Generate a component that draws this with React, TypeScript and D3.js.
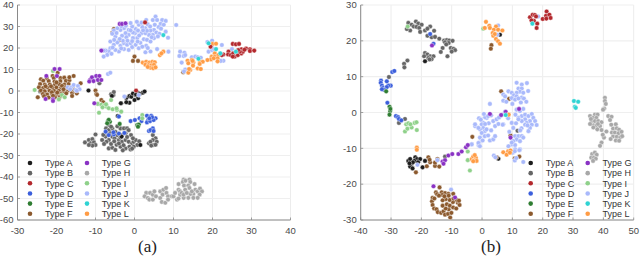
import React from "react";
import * as d3 from "d3";

type P = [number, number];

const typeNames = ["Type A","Type B","Type C","Type D","Type E","Type F","Type G","Type H","Type I","Type J","Type K","Type L"];
const typeColors = ["#1c1c1c","#666666","#b3282d","#3c5fdc","#2f7d32","#8c5a2e","#8a32c4","#a8a8a8","#8fd18a","#a9b9fb","#2fd3d3","#ff9c45"];

const xTicksA = [-30,-20,-10,0,10,20,30,40];
const yTicksA = [-60,-50,-40,-30,-20,-10,0,10,20,30,40];
const xTicksB = [-40,-30,-20,-10,0,10,20,30,40,50];
const yTicksB = [-30,-20,-10,0,10,20,30];

// Panel (a)
const aA: P[] = [[-11.8,.2],[-5.8,-2.3],[-4.3,-11.6],[-2.1,-3.2],[-1.3,-2.4],[-.8,-2.7],[-.4,-1.2],[.4,-2],[.9,-1],[.9,-3.4],[-1.3,-5.5],[-2.1,-5.2],[0,-4.2],[2.1,-.8],[2.6,-.2],[.4,-1.6],[1.3,-1.4],[-3.3,-21.2],[1.5,-25.1],[-3.5,-5.7]];
const aB: P[] = [[-10,-20.2],[-12.7,-23.9],[-11.7,-22.8],[-10.8,-22.4],[-11.3,-24.3],[-10.4,-23.9],[-10,-25.1],[-10.8,-25.4],[-11.7,-25.1],[-6.6,-15.8],[-7.3,-17.4],[-6.6,-18.2],[-7,-19.7],[-6.2,-19.7],[-5.7,-17.4],[-7.4,-21.2],[-8.3,-22.8],[-6.6,-22.8],[-5.7,-21.2],[-5.1,-22],[-4.4,-20.5],[-4.9,-19],[-3.6,-17.4],[-2.7,-17.4],[-1.9,-17.4],[-1.5,-18.2],[-2.3,-19.7],[-.9,-20.5],[-3.2,-20.5],[-4,-22.8],[-3.2,-23.6],[-2.3,-22.8],[-1.5,-23.6],[-.6,-24.3],[-.2,-23.6],[.7,-25.1],[.3,-22.8],[-6.6,-26.7],[-5.7,-26.4],[-4.9,-27.4],[-3.6,-25.9],[-2.3,-26.7],[-1.3,-25.9],[-.2,-25.9],[-6,-24.6],[-4.6,-25],[-2.8,-25.2],[-1,-27.2],[3.7,-24.3],[4.7,-20.5],[5.4,-22],[4.7,-22.8],[4.1,-23.6],[5.7,-23.6],[4.9,-25.1],[4.3,-25.4],[5.4,-25],[-5.4,-1.9],[-3.4,-5.7],[-9,3.6],[-24.2,-.2],[-6,-1.5],[-5.3,-.5],[-7.2,-23.6],[-5.2,-23.4],[-3.6,-21.6],[-1.9,-21.4],[-.4,-22],[-7.8,-24.6],[-3,-27.6],[-.6,-26.8],[-8,-20.4],[-6,-16.6],[-4.4,-16.4],[-4,-24.4],[1.2,-23.4]];
const aC: P[] = [[.4,.2],[2.7,31.9],[19.5,20.6],[25.2,21.9],[26,21.7],[26.8,21.9],[22.8,17],[22.4,16.7],[24.1,18.3],[24,17],[24.7,16.7],[25.3,17.5],[25.7,16],[25.2,16],[26.5,16.7],[27.4,17.5],[27.4,19.4],[27.8,18.3],[28.6,19.8],[29.6,19.4],[29.6,18.6],[30.7,18.8],[27,18.3],[26.6,19],[28.2,19.2]];
const aD: P[] = [[-4,-11.9],[-1,-14],[.1,-13.5],[1.3,-12.7],[1.8,-14],[3.2,-11.5],[4.3,-11.5],[5.4,-12.7],[3.5,-13.5],[3.2,-14.6],[4,-14],[4.9,-13.5],[4.5,-12.2],[3.8,-12.7],[-7.4,-18.9],[-6.6,-20.5],[-5.3,-20.2],[-5.4,-19.2],[3.7,-18.6],[4.7,-17.4],[4.1,-18.2],[4.9,-18.6],[-2.6,-19.5],[-4,-19.8]];
const aE: P[] = [[-6.8,-14],[-6.3,-14.3],[-6.6,-13.4],[-3.8,-15.3],[.7,-15.8],[1.1,-15.6],[-7,-15],[.9,-16.6]];
const aF: P[] = [[-19.7,8.5],[-21,7],[-22.5,6],[-20.7,6],[-19,6],[-18,6.2],[-24,5.5],[-23.4,4.8],[-22,4.6],[-20.5,4.4],[-19,4.6],[-17.6,4.7],[-16.7,5],[-24.2,3.2],[-23,3],[-21.7,3],[-20.4,2.9],[-19.3,3.1],[-18,3],[-16.9,3.2],[-24.5,1.7],[-23.4,1.4],[-22.3,1.6],[-21,1.4],[-20,1.6],[-18.8,1.5],[-17.8,1.7],[-24,.2],[-23,-.1],[-21.8,.1],[-20.6,0],[-19.4,.1],[-18.2,-.1],[-17,.3],[-23.5,-1.4],[-22.4,-1.6],[-21.2,-1.3],[-20,-1.5],[-18.8,-1.4],[-17.5,-1.1],[-16,-.8],[-24.8,-2.9],[-22,-3],[-20.4,-2.9],[-19.2,-2.8],[-16,-2.3],[-14.8,-1.1],[-15.4,.2],[-16.7,6.4],[-15.6,7],[-13.8,3.6],[-21.4,2.2],[-20,4],[-18.6,2.4],[-22.8,2.2],[-21.2,-.6],[-19.8,-.7],[-23.2,-2.4],[-20.9,-2.2],[-18.2,.8],[-15.8,1],[-10,.2],[-9.8,-1.4],[-8.5,-4.2],[-8,-5.2],[-9.6,-1.8],[-5.7,27.1],[-3.8,23.7],[0,16],[-.4,14],[.9,14],[12.5,8.7],[-5.3,28.8]];
const aG: P[] = [[-20.5,10.2],[-19.2,10.2],[-22.6,7],[-19.9,7],[-22.8,-3.7],[-20.9,-3.9],[-20.9,-4.6],[-11.4,5.1],[-10.9,6.4],[-9.8,7],[-9,7],[-9.4,5.1],[-8.5,5.1],[-11.6,4.4],[-10.5,4.6],[-10.3,-5.7],[-3.8,31.2],[-3.2,31.2],[-2.3,31.5],[-8.5,18.8]];
const aH: P[] = [[3,-47.4],[2.6,-49],[3.4,-49.8],[4,-47.4],[4.7,-48.2],[5.1,-46.7],[3.8,-50.5],[4.7,-50.5],[5.5,-49],[6.6,-46.7],[7.4,-45.9],[8.1,-45.1],[7.2,-48.2],[8.2,-47.4],[8.6,-49],[6.6,-49.8],[7,-51.6],[7.9,-52],[8.6,-50.5],[9.6,-49],[10,-49],[10.4,-47.4],[11.3,-43.3],[11.3,-45.9],[11.7,-46.7],[10.9,-50.5],[11.3,-50],[11.7,-48.2],[12.1,-47.4],[12.6,-41.2],[12.4,-42.3],[13.1,-41.7],[14.1,-41.2],[14.3,-42.3],[12.7,-44],[13.8,-44],[13,-45.9],[14.1,-45.1],[15.4,-43.3],[15.6,-45.9],[16.2,-46.7],[16.8,-45.4],[17.3,-46.7],[16.7,-48.2],[15.1,-47.9],[14.3,-47.9],[15.1,-49.7],[16.2,-49.7],[13.8,-49.7],[12.6,-49.7],[12.6,-48.2],[13.4,-47.4],[14.7,-46.7]];
const aI: P[] = [[-20.9,9.3],[-25.6,.5],[-19.4,-3.9],[-18.6,-1.9],[-17.9,-2.9],[-9.4,-6],[-8.5,-6.4],[-7.8,-6.9],[-7.1,-7.3],[-6.6,-8],[-9.1,-10.1],[-5.6,-8.5],[-4.5,-8.8],[-3.4,-9.6],[-6,-4.2],[-8.2,-7.6],[-7.3,-6.2],[2,-11.2],[2,-12.7],[-4.6,-8.1]];
const aJ: P[] = [[5.4,34.6],[4.7,33],[5.8,33],[7.1,33],[8,32.6],[6.7,31.2],[7.5,30.8],[5.2,30.8],[6.2,29.7],[5,28.4],[4.1,28.1],[5.6,27.2],[6.4,26.6],[4.7,26.1],[3.7,26.1],[2.8,29.2],[2,29.7],[1.1,30.8],[.3,28.8],[-.6,30],[-1.5,28.4],[.1,26.9],[.9,28.1],[1.8,26.9],[2.8,26.9],[2.4,24.1],[3.2,23.8],[4.1,23],[.7,24.6],[-.4,24.6],[-1.5,26.1],[-2.3,26.9],[-2.7,29.2],[-3.6,28.4],[-4.4,29.2],[-5.3,28.1],[-2.1,25],[-3.2,25.7],[-4.9,25.3],[-5.7,26.6],[-6.2,23],[-5.3,21.5],[-4.4,22.6],[-3.6,21],[-2.7,22.2],[-1.9,21.5],[-1,22.2],[-.6,20.4],[.3,21.5],[1.1,19.9],[-1.5,19.1],[-2.7,19.5],[-4,18.4],[-4.9,19.1],[-6.2,19.9],[-6.6,18.4],[-7,16.8],[-7.9,16],[-7.4,18.8],[-5.9,17.3],[2.8,18],[4.1,18.4],[5.8,19.5],[8.7,18.3],[10.7,30.7],[8.6,24.8],[6.8,29],[8,27.6],[3.4,31],[3.2,28],[1.5,22.4],[3,21],[-.4,27.2],[-3,23.4],[1.8,31.8],[-7.9,18.8],[-4.6,27],[-3.4,30.2],[-1,31.6],[.6,32.2],[4,30],[3,33],[1.2,25.8],[-.6,23.2],[-1.8,23.4],[-3.8,24.2],[-5.2,23.8],[2,20.6],[.8,23],[5,24.6],[3.4,20],[-3.4,19.8],[-5.6,20.2],[-1,28.2],[2.2,28.2],[4.4,25],[6,25.4],[-2.2,30.4],
[11.7,18.3],[12.8,17.8],[11.5,16.3],[12.6,16.3],[13,16.7],[12.1,13.2],[14.7,15.7],[15.6,16],[16.2,15.7],[17,15.5],[13,10],[12.7,9.1],[18.7,22.8],[19.9,23.4],[19.8,20.6],[19,18.3],[19.9,19],[22.4,21.4],[25,19.5],[22.8,14.1],[22.1,14],[20.4,19.5],
[-17.1,1.7],[-16.2,1.7],[-15.6,2.8],[-14.5,2.3],[-16.5,.8],[-15.1,.5],[-14.1,.8],[-14.8,.1],[-10.1,6.6],[-9.4,6.2],[-6.8,7.9],[-6.2,8.5],[1.1,-1.9],[-2.6,-2.6]];
const aK: P[] = [[7.4,26],[16.4,15],[19,22.2],[20.9,19.5],[22,17.5],[26,18.3]];
const aL: P[] = [[2.1,13.2],[3,13.6],[3.8,13.2],[4.6,13.6],[5.2,13.4],[2.8,12.2],[3.6,12],[4.3,11.9],[5,12.2],[4.1,10.8],[4.8,10.6],[5.4,11],[3.4,11.2],[7.4,18.3],[6.5,16.7],[6.9,17.5],
[13.6,14.1],[14.7,14.4],[15.1,13.2],[13.8,12.9],[15,11.8],[16.8,13.6],[17.5,13.6],[16.7,12.6],[16.2,10.5],[17,10.2],[14.3,9.8],[13.8,8.5],[14,10.2],[14.9,14],[20,21.9],[20.9,22],[19.8,16],[20.6,17.5],[20.6,16],[21.5,16.7],[21.3,15.2],[21.3,13.8],[19.6,14.7],[18.7,14.4],[20.3,15.2]];

// Panel (b)
const bA: P[] = [[-24.3,-13.5],[-23.7,-13],[-23.2,-14.3],[-22,-12.5],[-21.5,-13],[-20.4,-13],[-18.8,-13.5],[-23.7,-15.1],[-22.3,-13.5],[-21.1,-13.9],[-19.6,-15.3],[-22.8,-13.9],[-23.9,-14.2],[-22.9,-15.6],[-18.8,14.3],[5.9,21.7],[5.4,-12.9]];
const bB: P[] = [[-24.3,25],[-21.8,25.4],[-23.2,24.5],[-21,24.8],[-22.5,24],[-21.6,23.9],[-19.9,24.5],[-20.7,23.6],[-23.7,22.9],[-24.8,23.3],[-20.4,22.5],[-18.8,22.9],[-17.1,24],[-18,23.4],[-15.8,22.8],[-18,21.4],[-16.6,21],[-15.5,21.1],[-14.1,20.6],[-12.5,20.1],[-11.6,20.2],[-10.8,20.1],[-9.7,20],[-12.2,19.6],[-11,19.4],[-11.8,19],[-13,18],[-13.6,16.9],[-10.3,18],[-9.4,17.8],[-8.9,17.4],[-10,17],[-11.4,15.7],[-18.8,16.6],[-18,16.2],[-19.1,15.7],[-17.1,15.7],[-16,15.7],[-17.7,15.2],[-16.6,14.9],[-17.3,14.8],[-24.6,14.5],[-25.7,13.6],[-25.6,12.6],[-30.7,9.9],[-27.4,-2.9],[-25.4,-1.8],[-12.2,-12.3],[11.7,-5.1]];
const bC: P[] = [[15.8,26.6],[16.7,27.3],[17.4,27.2],[17.1,25.6],[18.2,24.8],[18,23.6],[20,26.1],[21.3,28.2],[21.1,27],[22.2,27.3],[22.6,26.4],[21.2,26.2],[16.3,25.7],[17.8,26.8]];
const bD: P[] = [[-29.6,11.3],[-28.9,11.6],[-33.3,8.9],[-33.4,8.3],[-33,7.5],[-32.7,6.9],[-31.4,8.7],[-30.1,7.5],[-30.9,7.5],[-31.4,7.1],[-32.2,6.3],[-33,6.5],[-31.2,2.7],[-28.4,-1],[-27.7,-1.3],[-27.4,-1.8],[-26.6,-2.2],[-17.1,21.9],[-16,19.2]];
const bE: P[] = [[-31.6,5.9],[-30.5,1.6],[-30.3,.4],[-30.5,-.6],[-30.2,1]];
const bF: P[] = [[-21.8,-16.7],[-17.7,-12.5],[-17.1,-13.9],[-18.2,-15],[-15.5,-14.9],[-15.5,-14],[-14.1,-15.1],[-14.7,-13],[-17.3,-13.2],[-14,-20.9],[-15.2,-22.3],[-14.8,-22.8],[-13.3,-22.3],[-12.2,-22.5],[-11.1,-22.7],[-9.5,-22.7],[-16.3,-23.8],[-16.5,-24.8],[-15.7,-24],[-16.3,-25.8],[-15.8,-26.8],[-15,-27],[-14.6,-27.8],[-13.5,-28],[-12.7,-27.6],[-12.2,-28.5],[-11.2,-28.3],[-10.5,-29.3],[-10.1,-28],[-11,-27],[-12,-26.8],[-13,-26],[-11.6,-25.6],[-10.6,-26],[-9.5,-26.5],[-8.5,-26.8],[-8,-25.2],[-7.4,-25.8],[-8.4,-24.4],[-7.6,-24.6],[-9.6,-25],[-10.7,-24.4],[-12,-24.2],[-13,-24.5],[-11,-23.2],[-13.1,-23],[-14.2,-23.2],[-12.4,-23.4],[-9.4,-24],[3.1,18.8],[2.9,17.8],[-3.2,-6.8],[6.3,5.9],[8.9,3.8],[9.4,-6.4],[10.8,-12.8],[12.3,-12.3],[4.8,-12.5]];
const bG: P[] = [[-16.5,18.7],[-13,-13.7],[-12.2,-13.3],[-11.1,-12],[-9.8,-11.6],[-7.8,-11.6],[-6.7,-10.9],[-5.3,-9.7],[-4.7,-9.1],[-16,-20.6],[-8.9,-23.7],[-12.7,-14.3],[2.6,-.4],[6.3,-.7],[7.8,.2],[12.2,1],[9.4,-7]];
const bH: P[] = [[40.5,4.1],[40.5,3.2],[40.8,2.4],[40.3,1.1],[39.9,.8],[41.6,-1],[42.7,-1.2],[42.2,-2.1],[44.1,-3.3],[35.6,-1],[37.2,-.6],[38.1,-.6],[36.6,-1.5],[37.7,-1.5],[36.1,-2.4],[37.2,-2.4],[38.3,-2.4],[39.4,-2.7],[36.7,-3.6],[37.7,-3.6],[38.9,-3.8],[36.7,-4.2],[38,-4.7],[39.4,-4.9],[41,-5.3],[40.2,-7],[39.4,-8.4],[38.9,-9.3],[35.6,-3.2],[43.2,-4.5],[44.4,-4.4],[45.2,-4.8],[42.8,-5.6],[43.8,-5.6],[45,-5.8],[46,-5.4],[43.2,-6.7],[44.4,-6.8],[45.6,-6.9],[44.1,-7.8],[45.2,-7.9],[36.3,-11.6],[37.2,-11.2],[37.8,-11.8],[36,-12.6],[36.9,-12.6],[37.5,-12.9],[36.6,-13.5],[39.8,-6.2],[38.2,-3.2],[35.9,-1.8],[42.6,-3.4],[46.2,-6.6],[42.4,-7.4]];
const bI: P[] = [[-24.5,24],[-25.4,-5.3],[-24.6,-4.5],[-23.2,-4.2],[-21.5,-4.9],[-25,-3.3],[-24.3,-3],[-23.6,-3.3],[-22.2,-2.9],[-21.6,-2.7],[-4.7,-13.3],[-4.7,-10.9],[-4,-16.2],[.4,23.4]];
const bJ: P[] = [[18.5,26.8],[-21.3,-14.6],[-14.7,-13.3],[-10.2,-21.5],[-3.4,-8.8],[-.9,-8.4],[-1.1,-9.2],[5.3,24.3],[5,21.7],[11.4,8.3],[13.1,7.8],[12,6.7],[13.1,6.7],[12.5,5.8],[13.6,5.5],[11.4,5.5],[8.7,5.9],[9.8,5.5],[10.5,4.8],[7,5],[7.6,4.5],[7,3.3],[9.8,4],[11.4,4.5],[13.1,4.2],[13.8,3.9],[10.9,3.6],[12,3.9],[2.6,2.4],[11.4,.8],[12.5,.4],[13.1,-1],[12,-1.5],[14.2,-.6],[15.3,-1],[16.4,-.4],[16.9,-1.5],[17.5,-2.4],[18,-3.5],[15.8,-2.4],[14.2,-1.9],[14.7,-2.9],[16.4,-3.4],[15.8,-4.3],[15.3,-5.2],[14.2,-3.4],[13.1,-2.4],[12,-1.9],[9.8,-2.9],[10.3,-4.3],[7,-3.3],[-2.3,-3.8],[-2.3,-3.3],[.4,-2.9],[-.1,-3.3],[.4,-4.3],[.9,-5.2],[-.7,-4.7],[-1.2,-4.3],[-.1,-5.7],[.9,-6.6],[1.5,-4.7],[-.7,-7],[-1.2,-8.5],[-.7,-9.4],[-3.4,-8.9],[2.6,-7.8],[3.7,-7.5],[4.3,-6.6],[4.3,-3.8],[3.7,-2.4],[1.5,-1.5],[1,-1.3],[2,-1],[4.8,-1.9],[7,-.5],[6.1,-1],[7.6,.2],[6.8,-3.4],[10.9,-6.6],[12,-6.6],[13.1,-6.6],[13.6,-7],[11.4,-7.5],[10.3,-8],[12.5,-8],[9.8,-8.9],[10.9,-9.1],[8.7,-9.4],[9.8,-8.4],[12.5,-10.3],[10.9,-10.3],[10.1,-11.2],[3.9,-12],[4.4,-12.5],[10.8,-13.4],[11.3,-12.7],[10.8,-10.8],[12.3,-10.5],[13.6,-13.8],[5.6,-1.4],[3,-.8],[.6,-.4],[-1,-1.6],[2.2,-3],[1,-3.2],[3,-5],[2,-6.4],[.2,-7.8],[-.4,-2],[5.4,-3.2],[8.6,-1.6],[11,-.6],[13.6,1],[15,-3.6],[13,-4.4],[11.2,-3],[12.6,-5],[9,-5.4],[8,3],[10,2.4],[12.8,2.8],[14.6,3],[15.2,6],[14.8,8.2]];
const bK: P[] = [[16.6,24.8],[30.3,3.2],[31.7,3],[30.6,1.6],[30.9,1.3],[7.8,-.7]];
const bL: P[] = [[-21.5,-9.8],[-21.5,-10.4],[-3.4,-13],[-2.9,-12.3],[-2,-12.7],[-2.6,-13.4],[-1.8,-13.5],[-2.9,-13.6],[-2.4,-11.9],[1.3,25.3],[2.4,24.2],[.9,23.6],[2.6,23.6],[4.6,24],[3.9,23.1],[5.3,23.1],[6.7,22.9],[3.5,22.2],[3.7,21.4],[4.6,20.5],[5.3,19.9],[5.9,19.2],[4.2,21.9],[8.8,-.6],[7,-11.1],[8.6,-10.8],[9.4,-10.6],[8.1,-11.8],[9.2,-11.2]];

const seriesA = [aA,aB,aC,aD,aE,aF,aG,aH,aI,aJ,aK,aL];
const seriesB = [bA,bB,bC,bD,bE,bF,bG,bH,bI,bJ,bK,bL];
const drawOrder = [7,1,0,3,4,5,9,8,6,11,2,10];

function Panel({ series, xDomain, yDomain, xTicks, yTicks, left, right, legendX, caption, captionX }: any) {
  const top = 5, bottom = 220;
  const x = d3.scaleLinear().domain(xDomain).range([left, right]);
  const y = d3.scaleLinear().domain(yDomain).range([bottom, top]);
  const font = "'Liberation Sans', Arial, sans-serif";
  return (
    <g>
      {xTicks.map((t: number) => <line key={"gx"+t} x1={x(t)} x2={x(t)} y1={top} y2={bottom} stroke="#ececec" strokeWidth={1} />)}
      {yTicks.map((t: number) => <line key={"gy"+t} x1={left} x2={right} y1={y(t)} y2={y(t)} stroke="#efefef" strokeWidth={1.2} />)}
      <line x1={left} x2={left} y1={top} y2={bottom} stroke="#8a8a8a" strokeWidth={1} />
      <line x1={left} x2={right} y1={bottom} y2={bottom} stroke="#8a8a8a" strokeWidth={1} />
      {yTicks.map((t: number) => <line key={"ty"+t} x1={left} x2={left+2.5} y1={y(t)} y2={y(t)} stroke="#8a8a8a" strokeWidth={0.8} />)}
      {xTicks.map((t: number) => <line key={"tx"+t} x1={x(t)} x2={x(t)} y1={bottom} y2={bottom-2.5} stroke="#8a8a8a" strokeWidth={0.8} />)}
      {yTicks.map((t: number) => <text key={"ly"+t} x={left-4} y={y(t)+3.3} textAnchor="end" fontFamily={font} fontSize={9.5} fill="#4a4a4a">{t}</text>)}
      {xTicks.map((t: number) => <text key={"lx"+t} x={x(t)} y={233.5} textAnchor="middle" fontFamily={font} fontSize={9.5} fill="#4a4a4a">{t}</text>)}
      {drawOrder.map((i) => (
        <g key={i}>
          {series[i].map((p: P, j: number) => (
            <circle key={j} cx={x(p[0])} cy={y(p[1])} r={2.3} fill={typeColors[i]} stroke="#ffffff" strokeWidth={0.5} strokeOpacity={0.8} />
          ))}
        </g>
      ))}
      {typeNames.map((n, i) => {
        const col = i < 6 ? 0 : 1;
        const row = i % 6;
        const ly = 163 + row * 10.15;
        return (
          <g key={n}>
            <circle cx={legendX + col * 57} cy={ly} r={2.3} fill={typeColors[i]} />
            <text x={legendX + 15 + col * 56.7} y={ly + 3.2} fontFamily={font} fontSize={9} fill="#333">{n}</text>
          </g>
        );
      })}
      <text x={captionX} y={252} textAnchor="middle" fontFamily="'Liberation Serif', 'Times New Roman', serif" fontSize={17} fill="#222">{caption}</text>
    </g>
  );
}

export default function App() {
  return (
    <svg width={640} height={257} style={{ position: "fixed", left: 0, top: 0, background: "#fff" }}>
      <Panel series={seriesA} xDomain={[-30,40]} yDomain={[-60,40]} xTicks={xTicksA} yTicks={yTicksA} left={17.5} right={290.5} legendX={30} caption="(a)" captionX={147.5} />
      <Panel series={seriesB} xDomain={[-40,50]} yDomain={[-30,30]} xTicks={xTicksB} yTicks={yTicksB} left={360.7} right={633.7} legendX={530.7} caption="(b)" captionX={491} />
    </svg>
  );
}
